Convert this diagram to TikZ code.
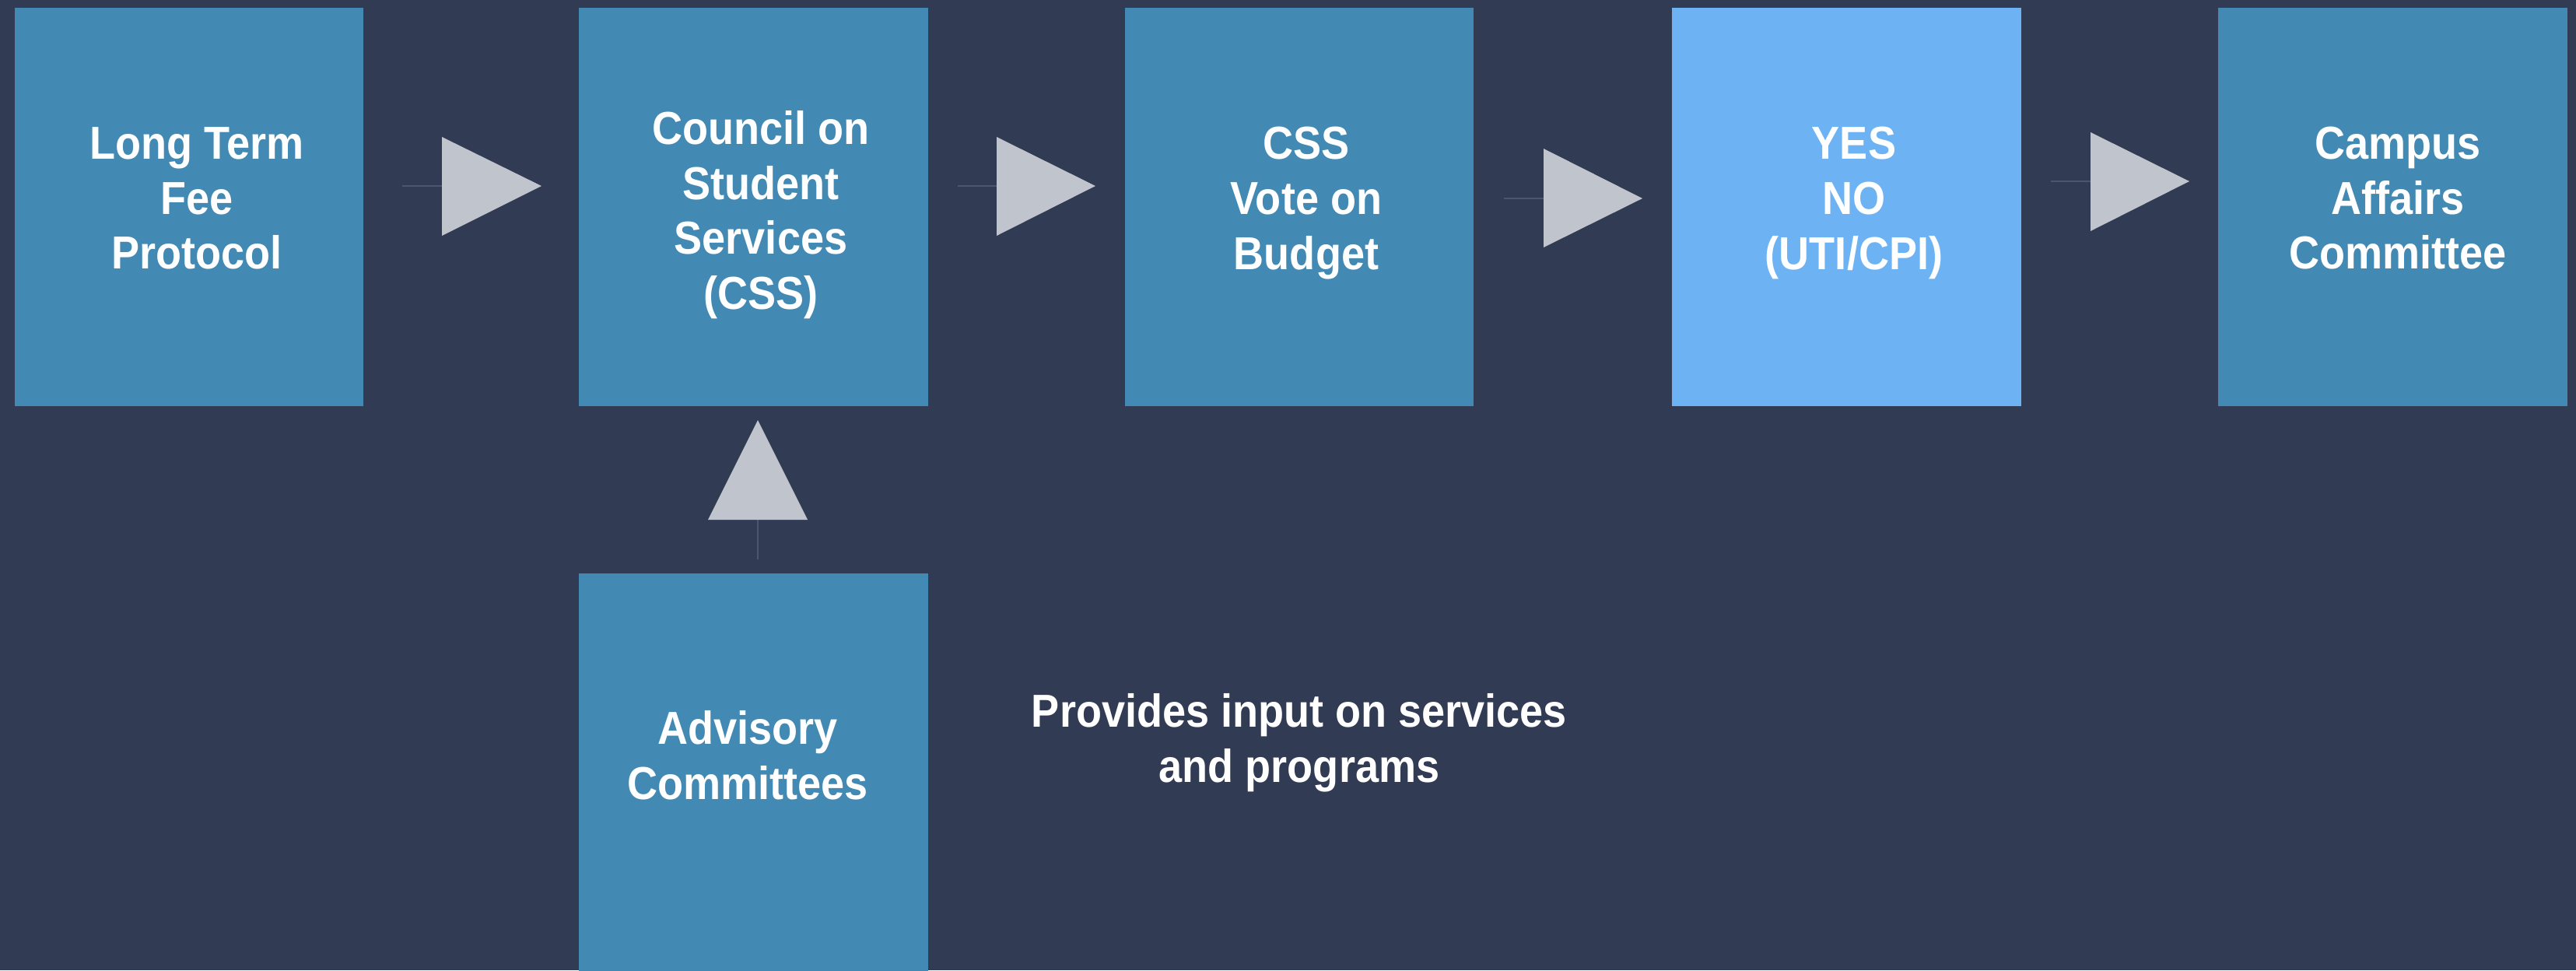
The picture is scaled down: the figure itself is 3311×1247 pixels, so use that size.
\documentclass[tikz,border=0pt]{standalone}
\usepackage{fontspec}
\setmainfont[FakeStretch=0.91]{Liberation Sans}
\definecolor{bgnavy}{HTML}{323B54}
\definecolor{boxblue}{HTML}{4289B3}
\definecolor{lightblue}{HTML}{6DB3F4}
\definecolor{trigray}{HTML}{C0C4CC}
\definecolor{tailc}{HTML}{4A5570}
\tikzset{
  stagebox/.style={fill=boxblue, draw=none, inner sep=0pt, minimum width=107.64pt, minimum height=122.9pt},
  lbl/.style={text=white, font=\bfseries\fontsize{14.26}{16.99}\selectfont, align=center, inner sep=0pt, anchor=north},
  tailline/.style={draw=tailc, line width=0.5pt},
  trihead/.style={fill=trigray}
}
\begin{document}
\begin{tikzpicture}[x=0.24pt,y=-0.24pt]
\fill[bgnavy] (0,0) rectangle (3311,1247);
\useasboundingbox (0,0) rectangle (3311,1247);
% boxes
\node[stagebox] (b1) at (243,266) {};
\node[stagebox] (b2) at (968.5,266) {};
\node[stagebox] (b3) at (1670,266) {};
\node[stagebox, fill=lightblue] (b4) at (2373.5,266) {};
\node[stagebox] (b5) at (3075.5,266) {};
\node[stagebox] (adv) at (968.5,993) {};
% texts
\node[lbl] (t1) at (253,162.5) {Long Term\\Fee\\Protocol};
\node[lbl] (t2) at (978,141.5) {Council on\\Student\\Services\\(CSS)};
\node[lbl] (t3) at (1679,162.5) {CSS\\Vote on\\Budget};
\node[lbl] (t4) at (2383,162.5) {YES\\NO\\(UTI/CPI)};
\node[lbl] (t5) at (3082,162) {Campus\\Affairs\\Committee};
\node[lbl] (tadv) at (961,912.5) {Advisory\\Committees};
\node[lbl] (tnote) at (1670,891) {Provides input on services\\and programs};
% connectors
\coordinate (s1) at (517,239);  \coordinate (e1) at (568,239);
\draw[tailline] (s1) -- (e1);
\fill[trihead] (568,176) -- (568,303) -- (696,239) -- cycle;
\coordinate (s2) at (1231,239); \coordinate (e2) at (1281,239);
\draw[tailline] (s2) -- (e2);
\fill[trihead] (1281,176) -- (1281,303) -- (1408,239) -- cycle;
\coordinate (s3) at (1933,255); \coordinate (e3) at (1984,255);
\draw[tailline] (s3) -- (e3);
\fill[trihead] (1984,191) -- (1984,318) -- (2111,255) -- cycle;
\coordinate (s4) at (2636,233); \coordinate (e4) at (2687,233);
\draw[tailline] (s4) -- (e4);
\fill[trihead] (2687,170) -- (2687,297) -- (2814,233) -- cycle;
\coordinate (s5) at (974,719); \coordinate (e5) at (974,668);
\draw[tailline] (s5) -- (e5);
\fill[trihead] (910,668) -- (1038,668) -- (974,540) -- cycle;
\end{tikzpicture}
\end{document}
